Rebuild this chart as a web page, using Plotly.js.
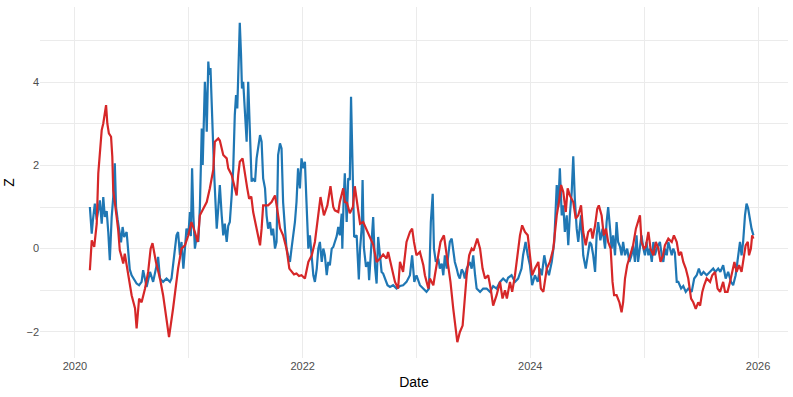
<!DOCTYPE html>
<html>
<head>
<meta charset="utf-8">
<script src="https://cdn.plot.ly/plotly-3.0.1.min.js"></script>
<style>
  html, body { margin: 0; padding: 0; background: #fff; }
  #chart { width: 793px; height: 397px; }
</style>
</head>
<body>
<div id="chart"></div>
<script>
// values
const blueDates = [
  "2020-02-18","2020-02-24","2020-02-28","2020-03-05","2020-03-11","2020-03-16","2020-03-21","2020-03-27",
  "2020-04-01","2020-04-06","2020-04-12","2020-04-17","2020-04-22","2020-04-28","2020-05-03","2020-05-08",
  "2020-05-12","2020-05-17","2020-05-22","2020-05-28","2020-06-02","2020-06-07","2020-06-15","2020-06-20",
  "2020-06-25","2020-07-01","2020-07-08","2020-07-17","2020-07-25","2020-08-02","2020-08-07","2020-08-18",
  "2020-08-29","2020-09-08","2020-09-17","2020-09-24","2020-09-30","2020-10-10","2020-10-21","2020-11-01",
  "2020-11-06","2020-11-11","2020-11-17","2020-11-22","2020-11-27","2020-12-03","2020-12-08","2020-12-14",
  "2020-12-19","2020-12-24","2020-12-30","2021-01-04","2021-01-07","2021-01-11","2021-01-15","2021-01-20",
  "2021-01-26","2021-01-31","2021-02-05","2021-02-11","2021-02-14","2021-02-18","2021-02-21","2021-02-24",
  "2021-02-27","2021-03-04","2021-03-07","2021-03-11","2021-03-15","2021-03-18","2021-03-20","2021-03-23",
  "2021-03-26","2021-03-31","2021-04-05","2021-04-10","2021-04-16","2021-04-21","2021-04-26","2021-05-02",
  "2021-05-07","2021-05-12","2021-05-18","2021-05-23","2021-05-28","2021-06-01","2021-06-05","2021-06-09",
  "2021-06-13","2021-06-17","2021-06-20","2021-06-24","2021-06-29","2021-07-05","2021-07-10","2021-07-13",
  "2021-07-18","2021-07-21","2021-07-24","2021-08-01","2021-08-06","2021-08-11","2021-08-17","2021-08-22",
  "2021-08-27","2021-09-02","2021-09-07","2021-09-12","2021-09-18","2021-09-23","2021-09-28","2021-10-04",
  "2021-10-09","2021-10-14","2021-10-20","2021-10-25","2021-10-30","2021-11-05","2021-11-10","2021-11-15",
  "2021-11-21","2021-11-26","2021-12-01","2021-12-07","2021-12-12","2021-12-17","2021-12-23","2021-12-28",
  "2022-01-03","2022-01-08","2022-01-13","2022-01-19","2022-01-24","2022-01-30","2022-02-04","2022-02-09",
  "2022-02-15","2022-02-20","2022-02-25","2022-03-03","2022-03-08","2022-03-13","2022-03-19","2022-03-24",
  "2022-03-29","2022-04-04","2022-04-09","2022-04-14","2022-04-20","2022-04-25","2022-04-30","2022-05-06",
  "2022-05-08","2022-05-12","2022-05-16","2022-05-22","2022-05-27","2022-06-01","2022-06-05","2022-06-08",
  "2022-06-12","2022-06-15","2022-06-23","2022-06-30","2022-07-04","2022-07-09","2022-07-12","2022-07-16",
  "2022-07-23","2022-07-30","2022-08-02","2022-08-10","2022-08-15","2022-08-21","2022-08-26","2022-08-31",
  "2022-09-06","2022-09-11","2022-09-16","2022-09-22","2022-09-30","2022-10-08","2022-10-18","2022-10-29",
  "2022-11-09","2022-11-19","2022-11-30","2022-12-11","2022-12-18","2022-12-25","2023-01-01","2023-01-12",
  "2023-01-23","2023-02-02","2023-02-10","2023-02-16","2023-02-22","2023-02-26","2023-03-04","2023-03-12",
  "2023-03-17","2023-03-23","2023-03-28","2023-04-02","2023-04-08","2023-04-13","2023-04-18","2023-04-24",
  "2023-04-29","2023-05-04","2023-05-10","2023-05-15","2023-05-20","2023-05-26","2023-05-31","2023-06-05",
  "2023-06-11","2023-06-21","2023-06-27","2023-07-02","2023-07-08","2023-07-13","2023-07-24","2023-08-03",
  "2023-08-14","2023-08-25","2023-09-04","2023-09-15","2023-09-26","2023-10-06","2023-10-17","2023-10-22",
  "2023-11-02","2023-11-13","2023-11-23","2023-12-04","2023-12-09","2023-12-17","2023-12-24","2023-12-31",
  "2024-01-07","2024-01-16","2024-01-25","2024-02-01","2024-02-07","2024-02-15","2024-02-23","2024-03-01",
  "2024-03-10","2024-03-18","2024-03-26","2024-03-31","2024-04-05","2024-04-11","2024-04-16","2024-04-21",
  "2024-04-27","2024-05-02","2024-05-07","2024-05-13","2024-05-18","2024-05-23","2024-05-29","2024-06-03",
  "2024-06-12","2024-06-19","2024-06-27","2024-07-05","2024-07-10","2024-07-15","2024-07-21","2024-07-27",
  "2024-08-01","2024-08-06","2024-08-13","2024-08-20","2024-08-28","2024-09-02","2024-09-07","2024-09-13",
  "2024-09-18","2024-09-23","2024-09-29","2024-10-04","2024-10-09","2024-10-15","2024-10-20","2024-10-25",
  "2024-10-31","2024-11-07","2024-11-14","2024-11-21","2024-11-26","2024-12-02","2024-12-07","2024-12-12",
  "2024-12-18","2024-12-23","2024-12-29","2025-01-03","2025-01-08","2025-01-14","2025-01-19","2025-01-25",
  "2025-01-30","2025-02-04","2025-02-10","2025-02-20","2025-02-26","2025-03-03","2025-03-08","2025-03-14",
  "2025-03-19","2025-03-24","2025-03-30","2025-04-04","2025-04-09","2025-04-15","2025-04-20","2025-04-29",
  "2025-05-06","2025-05-14","2025-05-22","2025-06-02","2025-06-10","2025-06-18","2025-06-25","2025-07-02",
  "2025-07-10","2025-07-20","2025-07-31","2025-08-10","2025-08-17","2025-08-26","2025-09-02","2025-09-11",
  "2025-09-19","2025-09-27","2025-10-06","2025-10-13","2025-10-21","2025-10-27","2025-11-04","2025-11-09",
  "2025-11-14","2025-11-20","2025-11-25","2025-11-30","2025-12-06","2025-12-11","2025-12-17"
];
const blueZ = [
  1.00, 0.36, 0.70, 1.08, 0.70, 0.97, 1.16, 0.60,
  1.24, 0.76, 0.90, 0.40, -0.28, 0.76, 1.24, 2.05,
  1.00, 0.70, 0.48, 0.15, 0.52, 0.28, 0.40, -0.16,
  -0.50, -0.64, -0.72, -0.84, -0.88, -0.80, -0.52, -0.92,
  -0.56, -0.80, -0.48, -0.20, -0.72, -0.80, -0.72, -0.80,
  -0.72, -0.40, 0.00, 0.32, 0.40, -0.16, 0.16, -0.48,
  0.00, 0.48, 0.32, 0.88, 0.30, 1.93, 0.80, 0.00,
  0.30, 0.16, 1.00, 2.89, 2.01, 3.37, 4.01, 3.53,
  2.81, 4.50, 4.18, 4.34, 3.61, 3.21, 2.41, 1.77,
  1.12, 0.48, 0.97, 1.53, 0.80, 0.32, 0.60, 0.16,
  0.55, 0.64, 1.28, 1.93, 3.21, 3.69, 3.37, 4.18,
  5.43, 4.66, 3.85, 4.01, 3.21, 2.57, 4.01, 3.21,
  2.25, 1.61, 1.69, 1.61, 2.17, 2.41, 2.73, 2.57,
  1.69, 1.45, 0.80, 0.48, 0.64, 0.32, 0.48, 0.00,
  0.16, 2.25, 2.53, 2.41, 1.12, 0.48, 0.00, -0.16,
  -0.32, 0.00, 0.32, 0.64, 1.12, 1.93, 1.45, 2.17,
  1.93, 2.09, 1.12, 0.00, 0.32, -0.16, -0.64, -0.80,
  -0.48, 0.00, 0.16, -0.32, 0.00, -0.16, -0.64, -0.32,
  -0.40, 0.00, 0.04, 0.16, 0.30, 0.52, 0.32, 0.84,
  0.00, 1.12, 1.81, 0.64, 1.69, 1.65, 3.65, 2.61,
  0.84, 0.28, 0.32, -0.74, 0.00, 0.48, 1.65, 0.04,
  -0.44, -0.32, -0.76, 0.36, 0.76, -0.44, -0.84, 0.28,
  -0.28, -0.56, -0.60, -0.72, -0.88, -0.92, -0.88, -0.96,
  -0.90, -0.88, -0.80, -0.64, -0.16, -0.80, -0.64, -0.88,
  -0.96, -1.04, -0.96, 0.64, 1.32, 0.00, -0.32, -0.24,
  -0.48, -0.36, -0.64, -0.16, -0.48, -0.20, 0.16, 0.24,
  0.00, -0.32, -0.48, -0.64, -0.72, -0.50, -0.56, -0.72,
  -0.48, -0.32, -0.48, -0.16, -0.64, -0.96, -1.04, -0.96,
  -0.96, -1.04, -0.90, -0.96, -0.80, -0.72, -0.80, -0.70,
  -0.64, -0.80, -0.72, -0.48, -0.16, 0.16, -0.16, -0.40,
  -0.88, -0.64, -0.80, -0.48, -0.64, -0.16, -0.48, -0.64,
  -0.32, 0.16, 1.53, 1.00, 1.93, 0.80, 1.04, 0.40,
  0.80, 0.08, 0.80, 1.36, 2.22, 1.20, 0.48, 0.16,
  0.80, -0.16, -0.48, 0.00, 0.16, 0.10, -0.16, -0.56,
  0.32, 0.64, 0.20, 0.48, 0.00, 0.64, 1.00, 0.48,
  0.00, 0.32, -0.16, 0.64, 0.16, 0.05, -0.16, 0.16,
  -0.16, 0.00, -0.32, -0.16, 0.08, -0.32, 0.32, -0.32,
  0.00, 0.32, 0.00, -0.16, 0.16, -0.16, 0.00, -0.32,
  0.16, -0.16, 0.00, 0.16, -0.16, -0.32, 0.00, -0.16,
  0.16, 0.00, -0.16, 0.00, -0.10, -0.80, -0.80, -0.96,
  -0.90, -1.04, -0.96, -1.04, -0.72, -0.64, -0.48, -0.64,
  -0.56, -0.64, -0.56, -0.48, -0.56, -0.48, -0.56, -0.40,
  -0.72, -0.56, -0.80, -0.88, -0.64, -0.32, 0.16, -0.16,
  0.16, 0.80, 1.08, 0.97, 0.64, 0.48, 0.32
];

const redDates = [
  "2020-02-18","2020-02-24","2020-03-03","2020-03-11","2020-03-16","2020-03-21","2020-03-27","2020-04-01",
  "2020-04-06","2020-04-10","2020-04-14","2020-04-19","2020-04-26","2020-04-30","2020-05-03","2020-05-08",
  "2020-05-14","2020-05-19","2020-05-24","2020-05-30","2020-06-04","2020-06-09","2020-06-20","2020-06-25",
  "2020-07-01","2020-07-12","2020-07-17","2020-07-25","2020-08-02","2020-08-13","2020-08-23","2020-08-31",
  "2020-09-06","2020-09-17","2020-09-30","2020-10-10","2020-10-19","2020-10-29","2020-11-11","2020-11-22",
  "2020-11-27","2020-12-08","2020-12-19","2020-12-30","2021-01-09","2021-01-20","2021-01-29","2021-02-05",
  "2021-02-16","2021-02-27","2021-03-09","2021-03-15","2021-03-20","2021-03-25","2021-04-05","2021-04-10",
  "2021-04-21","2021-05-02","2021-05-07","2021-05-18","2021-05-23","2021-06-03","2021-06-08","2021-06-13",
  "2021-06-22","2021-06-29","2021-07-07","2021-07-13","2021-07-20","2021-07-26","2021-08-01","2021-08-06",
  "2021-08-11","2021-08-17","2021-08-22","2021-08-27","2021-09-02","2021-09-12","2021-09-23","2021-10-04",
  "2021-10-11","2021-10-20","2021-10-30","2021-11-10","2021-11-19","2021-11-26","2021-12-04","2021-12-12",
  "2021-12-20","2021-12-28","2022-01-08","2022-01-19","2022-01-30","2022-02-09","2022-02-20","2022-02-27",
  "2022-03-10","2022-03-21","2022-03-31","2022-04-09","2022-04-14","2022-04-25","2022-04-30","2022-05-06",
  "2022-05-11","2022-05-16","2022-05-23","2022-06-01","2022-06-11","2022-06-17","2022-06-24","2022-07-04",
  "2022-07-14","2022-07-25","2022-08-05","2022-08-15","2022-08-26","2022-09-06","2022-09-16","2022-09-27",
  "2022-10-02","2022-10-13","2022-10-24","2022-11-03","2022-11-09","2022-11-19","2022-11-30","2022-12-11",
  "2022-12-18","2022-12-24","2023-01-01","2023-01-12","2023-01-23","2023-01-28","2023-02-08","2023-02-13",
  "2023-02-24","2023-03-01","2023-03-12","2023-03-19","2023-03-30","2023-04-05","2023-04-13","2023-04-20",
  "2023-04-29","2023-05-04","2023-05-12","2023-05-20","2023-05-29","2023-06-05","2023-06-11","2023-06-19",
  "2023-06-27","2023-07-03","2023-07-08","2023-07-15","2023-07-24","2023-08-01","2023-08-09","2023-08-19",
  "2023-08-27","2023-09-04","2023-09-15","2023-09-26","2023-10-04","2023-10-12","2023-10-18","2023-10-28",
  "2023-11-04","2023-11-13","2023-11-21","2023-11-29","2023-12-06","2023-12-15","2023-12-24","2023-12-31",
  "2024-01-07","2024-01-16","2024-01-27","2024-02-04","2024-02-12","2024-02-23","2024-03-04","2024-03-15",
  "2024-03-26","2024-04-02","2024-04-09","2024-04-16","2024-04-24","2024-04-30","2024-05-07","2024-05-18",
  "2024-05-26","2024-06-03","2024-06-12","2024-06-19","2024-06-27","2024-07-05","2024-07-14","2024-07-19",
  "2024-07-27","2024-08-03","2024-08-08","2024-08-17","2024-08-24","2024-08-31","2024-09-07","2024-09-15",
  "2024-09-21","2024-09-26","2024-10-04","2024-10-13","2024-10-20","2024-10-25","2024-10-31","2024-11-07",
  "2024-11-16","2024-11-26","2024-12-05","2024-12-12","2024-12-18","2024-12-23","2024-12-31","2025-01-06",
  "2025-01-14","2025-01-21","2025-01-30","2025-02-07","2025-02-15","2025-02-22","2025-03-02","2025-03-08",
  "2025-03-19","2025-03-30","2025-04-06","2025-04-15","2025-04-22","2025-04-29","2025-05-06","2025-05-14",
  "2025-05-22","2025-05-31","2025-06-07","2025-06-15","2025-06-23","2025-06-29","2025-07-06","2025-07-12",
  "2025-07-20","2025-07-31","2025-08-07","2025-08-16","2025-08-24","2025-09-01","2025-09-11","2025-09-17",
  "2025-09-25","2025-10-03","2025-10-10","2025-10-17","2025-10-24","2025-11-01","2025-11-09","2025-11-14",
  "2025-11-22","2025-11-29","2025-12-03","2025-12-09","2025-12-13","2025-12-17"
];
const redZ = [
  -0.52, 0.20, 0.04, 0.60, 1.81, 2.37, 2.85, 3.01,
  3.33, 3.45, 3.01, 2.77, 2.69, 2.21, 1.40, 1.16,
  0.76, 0.44, -0.04, -0.20, -0.36, -0.12, -0.68, -0.92,
  -1.12, -1.44, -1.92, -1.20, -1.29, -0.96, -0.56, 0.00,
  0.13, -0.32, -0.72, -1.12, -1.61, -2.13, -1.44, -0.80,
  -0.48, 0.00, 0.08, 0.32, 0.64, 0.40, 0.16, 0.80,
  0.97, 1.12, 1.45, 1.69, 1.90, 2.57, 2.65, 2.60,
  2.25, 2.17, 1.93, 1.77, 1.61, 1.28, 1.77, 2.09,
  2.17, 1.77, 1.45, 1.20, 1.25, 0.88, 0.64, 0.48,
  0.32, 0.08, 0.48, 1.04, 1.04, 1.04, 1.12, 1.28,
  0.96, 0.49, 0.32, 0.00, -0.48, -0.56, -0.62, -0.60,
  -0.66, -0.64, -0.72, -0.32, -0.16, 0.16, 0.80, 1.24,
  0.80, 1.04, 1.50, 1.00, 0.92, 0.88, 1.12, 1.28,
  1.45, 1.12, 1.10, 0.85, 1.00, 1.50, 1.10, 0.60,
  0.64, 0.45, 0.30, 0.10, -0.32, -0.24, -0.14, -0.24,
  -0.08, -0.48, -0.80, -0.96, -0.32, -0.56, 0.16, 0.40,
  0.48, 0.16, -0.16, -0.08, -0.40, -0.64, -0.96, -0.72,
  -0.88, -0.64, -0.16, 0.16, 0.32, 0.00, -0.32, -0.80,
  -1.45, -1.77, -2.25, -2.01, -1.85, -1.20, -0.64, -0.16,
  0.00, -0.05, 0.08, 0.24, 0.00, -0.48, -0.72, -0.64,
  -0.96, -1.37, -1.12, -0.80, -1.20, -1.00, -1.20, -0.80,
  -1.04, -0.64, -0.16, 0.32, 0.56, 0.40, 0.32, -0.16,
  -0.64, -0.48, -0.32, -0.96, -1.04, -0.48, -0.32, 0.00,
  0.80, 1.12, 1.53, 1.36, 0.88, 1.45, 1.28, 1.12,
  0.72, 0.80, 1.04, 0.40, 0.08, 0.40, 0.48, 0.24,
  0.56, 0.96, 1.04, 0.80, 0.32, 0.48, 0.16, 0.00,
  -0.80, -1.12, -1.12, -1.29, -1.53, -1.29, -0.72, -0.40,
  -0.16, 0.08, 0.48, 0.64, 0.80, 0.16, 0.00, 0.05,
  0.40, 0.00, -0.16, 0.16, 0.00, -0.32, -0.16, 0.08,
  0.24, 0.16, 0.32, 0.16, -0.16, -0.08, -0.32, -0.48,
  -0.72, -1.20, -1.29, -1.45, -1.29, -1.37, -1.04, -0.88,
  -0.72, -0.80, -0.64, -0.56, -0.96, -1.04, -0.80, -1.04,
  -1.04, -0.80, -0.56, -0.32, -0.56, -0.40, -0.56, -0.32,
  0.08, 0.16, -0.16, 0.00, 0.32, 0.24
];

const yTickVals = [-2, 0, 2, 4];

const font = "Liberation Sans, Arial, Helvetica, sans-serif";

const traces = [
  {
    x: blueDates,
    y: blueZ,
    mode: "lines",
    name: "blue",
    line: { color: "#1f77b4", width: 2.2 },
    hoverinfo: "x+y",
  },
  {
    x: redDates,
    y: redZ,
    mode: "lines",
    name: "red",
    line: { color: "#d62728", width: 2.2 },
    hoverinfo: "x+y",
  },
];

const layout = {
  width: 793,
  height: 397,
  showlegend: false,
  paper_bgcolor: "#ffffff",
  plot_bgcolor: "#ffffff",
  font: { family: font, color: "#4d4d4d", size: 11 },
  margin: { t: 7, l: 40, r: 5, b: 39 },
  xaxis: {
    type: "date",
    range: ["2019-09-11", "2026-04-07"],
    tick0: "2020-01-01",
    dtick: "M24",
    tickformat: "%Y",
    ticks: "",
    showline: false,
    zeroline: false,
    gridcolor: "#ebebeb",
    gridwidth: 1.1,
    minor: { dtick: "M12", tick0: "2020-01-01", showgrid: true, gridcolor: "#ebebeb", gridwidth: 0.55 },
    tickfont: { family: font, size: 11, color: "#4d4d4d" },
    title: { text: "Date", font: { family: font, size: 14, color: "#000000" }, standoff: 6 },
  },
  yaxis: {
    range: [-2.63, 5.81],
    tickvals: yTickVals,
    ticks: "",
    showline: false,
    zeroline: false,
    gridcolor: "#ebebeb",
    gridwidth: 1.1,
    minor: { dtick: 1, tick0: 0, showgrid: true, gridcolor: "#ebebeb", gridwidth: 0.55 },
    tickfont: { family: font, size: 11, color: "#4d4d4d" },
    title: { text: "Z", font: { family: font, size: 14, color: "#000000" }, standoff: 8 },
  },
};

Plotly.newPlot("chart", traces, layout, { displayModeBar: false, responsive: false });
</script>
</body>
</html>
